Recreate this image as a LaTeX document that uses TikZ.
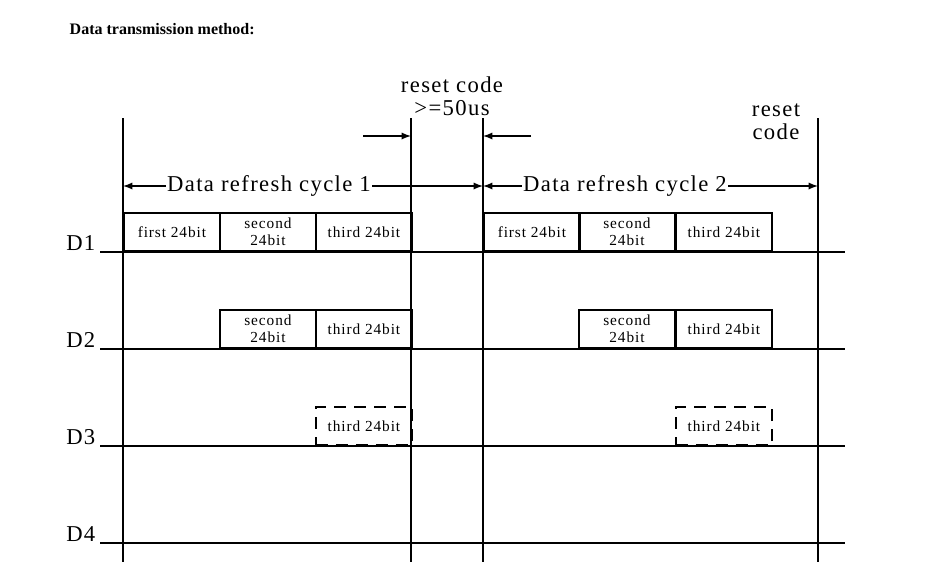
\documentclass[tikz,border=0pt]{standalone}
\usepackage{fontspec}
\setmainfont{Liberation Serif}
\newfontfamily\widefont{Liberation Serif}[LetterSpace=6]
\usetikzlibrary{arrows,calc,positioning}
\tikzset{
        axis/.style = {line width=1.4pt},
        cell/.style = {draw, line width=1.4pt, rectangle, anchor=south west,
            minimum height=28.5pt, minimum width=72pt, inner sep=0pt,
            align=center, font=\widefont\fontsize{11.5}{12.5}\selectfont},
        dcell/.style = {cell, dash pattern=on 9pt off 6pt},
        lbl/.style = {font=\widefont\fontsize{17}{17.5}\selectfont, inner sep=0.75pt},
        arrow/.style = {draw, line width=1.4pt, -latex},
    }
\begin{document}
\begin{tikzpicture}[x=0.75pt,y=0.75pt,yscale=-1,xscale=1]
    \useasboundingbox (0,0) rectangle (943,579);

    % Title
    \node[anchor=west, font=\bfseries\fontsize{12}{12}\selectfont] (title) at (65,29) {Data transmission method:};

    % vertical markers
    \foreach \x/\n in {123/va,411/vb,483/vc,818/vd} {
        \coordinate (\n t) at (\x,118);
        \coordinate (\n b) at (\x,562);
        \draw[axis] (\n t) -- (\n b);
    }

    % data lines
    \foreach \y/\n in {252/1,349/2,446/3,543/4} {
        \coordinate (l\n s) at (123,\y);
        \coordinate (l\n e) at (845,\y);
        \draw[axis] (l\n s) -- (l\n e);
        \node[lbl, anchor=south west] (D\n) at (65,\y) {D\n};
        \draw[axis] (100,\y) -- (l\n s);
    }

    % D1
    \node[cell] (a1) at (123,252) {first 24bit};
    \node[cell] (a2) at (219,252) {second\\24bit};
    \node[cell] (a3) at (315,252) {third 24bit};
    \node[cell] (b1) at (483,252) {first 24bit};
    \node[cell] (b2) at (578,252) {second\\24bit};
    \node[cell] (b3) at (675,252) {third 24bit};
    % D2
    \node[cell] (c2) at (219,349) {second\\24bit};
    \node[cell] (c3) at (315,349) {third 24bit};
    \node[cell] (d2) at (578,349) {second\\24bit};
    \node[cell] (d3) at (675,349) {third 24bit};
    % D3
    \node[dcell] (e3) at (315,446) {third 24bit};
    \node[dcell] (f3) at (675,446) {third 24bit};

    % refresh cycles
    \node[lbl] (cyc1) at (269,186) {Data refresh cycle 1};
    \node[lbl] (cyc2) at (625,186) {Data refresh cycle 2};
    \coordinate (c1l) at (123,186);
    \coordinate (c1r) at (483,186);
    \coordinate (c2r) at (818,186);
    \draw[arrow] (cyc1.west) -- (c1l);
    \draw[arrow] (cyc1.east) -- (c1r);
    \draw[arrow] (cyc2.west) -- (c1r);
    \draw[arrow] (cyc2.east) -- (c2r);

    % reset codes
    \node[lbl, align=center] (rst1) at (452,96) {reset code\\>=50us};
    \node[lbl, align=center] (rst2) at (776,122) {reset\\code};
    \coordinate (r1a) at (363,136);
    \coordinate (r1b) at (411,136);
    \coordinate (r2a) at (531,136);
    \coordinate (r2b) at (483,136);
    \draw[arrow] (r1a) -- (r1b);
    \draw[arrow] (r2a) -- (r2b);
\end{tikzpicture}
\end{document}
